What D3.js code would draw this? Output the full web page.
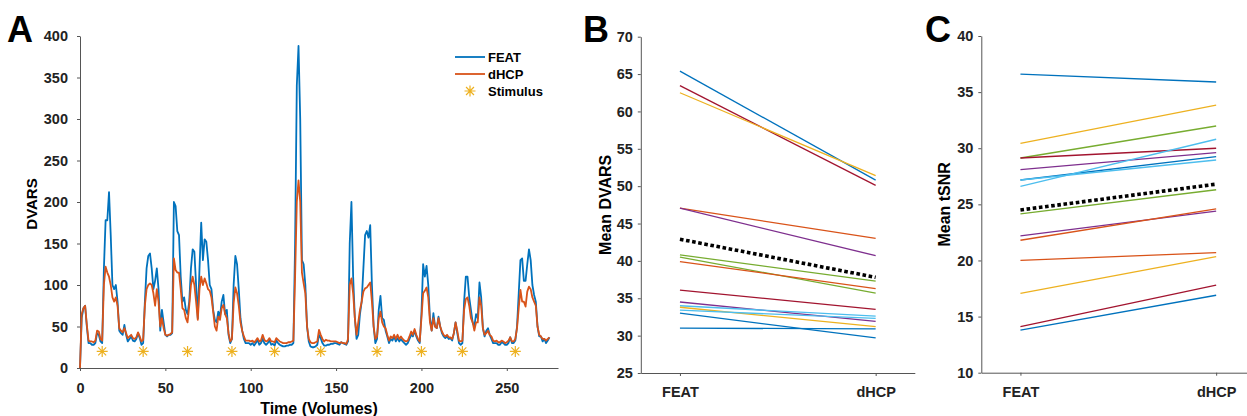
<!DOCTYPE html>
<html>
<head>
<meta charset="utf-8">
<script src="https://cdn.jsdelivr.net/npm/d3@7"></script>
<style>
  body { margin: 0; background: #fff; }
  svg { display: block; font-family: "Liberation Sans", Arial, Helvetica, sans-serif; }
  .axis text { font-size: 14.5px; font-weight: bold; fill: #222; }
  .axis path, .axis line { stroke: #555; }
</style>
</head>
<body>
<svg width="1247" height="416"></svg>
<script>
// ---- panel A : DVARS per volume ----
const dvarsFeat = [
  0, 60, 72, 75, 50, 30, 30, 28, 28, 30,
  42, 40, 32, 30, 120, 178, 178, 212, 160, 100,
  95, 100, 80, 45, 42, 40, 52, 40, 32, 35,
  38, 33, 32, 35, 42, 36, 28, 30, 80, 120,
  135, 138, 120, 95, 105, 120, 95, 45, 70, 55,
  40, 38, 40, 40, 42, 200, 195, 165, 160, 110,
  80, 85, 70, 65, 80, 120, 143, 140, 100, 60,
  120, 175, 130, 155, 152, 130, 100, 95, 70, 58,
  55, 68, 62, 80, 88, 65, 70, 40, 30, 35,
  100, 135, 125, 95, 60, 45, 35, 30, 30, 30,
  28, 30, 27, 30, 34, 28, 30, 35, 30, 28,
  30, 33, 28, 29, 27, 33, 30, 28, 27, 26,
  26, 27, 27, 28, 28, 30, 150, 340, 388, 300,
  130, 125, 100, 50, 32, 26, 25, 25, 26, 28,
  40, 36, 30, 27, 27, 28, 28, 29, 29, 30,
  30, 29, 28, 31, 30, 29, 28, 32, 150, 200,
  110, 60, 35, 40, 65, 80, 120, 160, 165, 157,
  172, 100, 50, 30, 35, 70, 87, 60, 58, 45,
  38, 30, 35, 33, 38, 32, 36, 32, 35, 32,
  30, 28, 30, 35, 40, 38, 45, 38, 33, 30,
  65, 125, 110, 123, 100, 60, 45, 66, 50, 48,
  62, 50, 42, 38, 36, 38, 35, 36, 33, 42,
  55, 42, 30, 28, 30, 80, 110, 110, 85, 70,
  55, 50, 65, 60, 103, 85, 48, 38, 45, 48,
  40, 35, 30, 30, 30, 28, 28, 31, 30, 28,
  28, 30, 37, 30, 30, 33, 50, 90, 130, 132,
  105, 105, 125, 143, 130, 100, 88, 80, 50, 38,
  38, 32, 35, 30, 33, 37
];
const dvarsDhcp = [
  0, 65, 72, 75, 52, 33, 32, 32, 31, 33,
  45, 44, 35, 33, 100, 122, 115, 110, 100, 85,
  80, 85, 75, 48, 45, 43, 48, 42, 36, 38,
  40, 36, 35, 37, 43, 38, 32, 34, 75, 95,
  100, 102, 100, 90, 75, 95, 80, 50, 60, 48,
  40, 39, 40, 41, 43, 132, 118, 115, 115, 95,
  72, 70, 60, 55, 75, 100, 110, 100, 80, 58,
  95, 110, 100, 108, 102, 95, 93, 85, 68, 50,
  45, 62, 58, 72, 76, 65, 60, 42, 32, 35,
  78, 97, 90, 75, 55, 45, 38, 33, 33, 33,
  32, 33, 31, 33, 36, 32, 33, 40, 34, 32,
  33, 36, 32, 32, 31, 36, 34, 32, 31, 30,
  30, 30, 31, 31, 32, 33, 110, 200, 226, 200,
  115, 102, 90, 50, 35, 31, 30, 30, 31, 32,
  46, 40, 35, 32, 34, 33, 33, 32, 32, 32,
  32, 31, 30, 31, 30, 30, 29, 35, 100, 108,
  90, 60, 40, 55, 70, 80, 92, 96, 97, 100,
  103, 80, 50, 35, 38, 60, 68, 55, 50, 48,
  40, 33, 38, 36, 40, 35, 40, 35, 38, 35,
  33, 32, 33, 38, 44, 40, 47, 40, 35, 32,
  60, 90, 93, 97, 85, 55, 45, 60, 50, 48,
  60, 50, 44, 40, 38, 40, 37, 37, 35, 42,
  55, 45, 33, 32, 33, 70, 83, 85, 75, 60,
  55, 45, 55, 55, 85, 75, 48, 40, 42, 45,
  40, 38, 33, 32, 33, 31, 31, 33, 32, 30,
  31, 33, 37, 32, 32, 35, 48, 72, 94, 80,
  80, 74, 92, 98, 95, 85, 80, 75, 50, 40,
  38, 35, 35, 33, 35, 37
];
const stimulusVolumes = [13, 37, 63, 89, 114, 141, 174, 200, 224, 255];
const stimulusLevel = 20;
const timeTicks = [0, 50, 100, 150, 200, 250];
const dvarsTicks = [0, 50, 100, 150, 200, 250, 300, 350, 400];
const legendNames = ["FEAT", "dHCP", "Stimulus"];

// ---- panels B and C : per subject means ----
const methods = ["FEAT", "dHCP"];
const subjColorsB = ["blue", "darkred", "yellow", "orange", "purple", "green", "green", "orange",
                     "darkred", "purple", "lightblue", "yellow", "lightblue", "blue", "blue"];
const meanDvarsFeat = [65.4, 63.45, 62.5, 47.05, 47.05, 40.8, 40.5, 39.9, 36.1, 34.5, 34.0, 33.8, 33.4, 33.0, 31.0];
const meanDvarsDhcp = [50.8, 50.1, 51.4, 43.0, 40.7, 37.3, 35.7, 36.3, 33.5, 31.9, 32.6, 31.2, 32.3, 29.7, 30.9];
const groupDvars = [42.9, 37.8];
const dvarsTicksB = [25, 30, 35, 40, 45, 50, 55, 60, 65, 70];

const subjColorsC = ["blue", "yellow", "green", "darkred", "purple", "blue", "lightblue", "lightblue",
                     "green", "purple", "orange", "orange", "yellow", "darkred", "blue"];
const meanTsnrFeat = [36.6, 30.44, 29.13, 29.13, 28.1, 27.17, 26.6, 27.17, 24.15, 22.2, 21.8, 20.0, 17.07, 14.1, 13.8];
const meanTsnrDhcp = [35.9, 33.85, 31.98, 30.0, 29.6, 29.25, 30.8, 28.95, 26.3, 24.4, 24.6, 20.7, 20.34, 17.8, 16.9];
const groupTsnr = [24.5, 26.8];
const tsnrTicks = [10, 15, 20, 25, 30, 35, 40];

const palette = {
  blue: "#0072BD", orange: "#D95319", yellow: "#EDB120", purple: "#7E2F8E",
  green: "#77AC30", lightblue: "#4DBEEE", darkred: "#A2142F"
};

const svg = d3.select("svg");

// asterisk like matlab '*' marker
function asterisk(cx, cy, r) {
  const d = r * 0.72;
  return `M${cx - r},${cy}h${2 * r}M${cx},${cy - r}v${2 * r}` +
         `M${cx - d},${cy - d}l${2 * d},${2 * d}M${cx - d},${cy + d}l${2 * d},${-2 * d}`;
}

function panelLetter(x, y, t) {
  svg.append("text").attr("x", x).attr("y", y)
    .style("font-size", "36px").style("font-weight", "bold").text(t);
}

//=============== A ===============
const xA = d3.scaleLinear().domain([0, 280]).range([80, 558]);
const yA = d3.scaleLinear().domain([0, 400]).range([368, 36]);

svg.append("g").attr("class", "axis").attr("transform", "translate(0,368)")
  .call(d3.axisBottom(xA).tickValues(timeTicks).tickSize(3).tickSizeOuter(0).tickPadding(12));
svg.append("g").attr("class", "axis").attr("transform", "translate(80,0)")
  .call(d3.axisLeft(yA).tickValues(dvarsTicks).tickSize(3).tickSizeOuter(0).tickPadding(9));

const lineA = d3.line().x((d, i) => xA(i)).y(d => yA(d));
svg.append("path").attr("d", lineA(dvarsFeat))
  .attr("fill", "none").attr("stroke", palette.blue).attr("stroke-width", 1.8).attr("stroke-linejoin", "round");
svg.append("path").attr("d", lineA(dvarsDhcp))
  .attr("fill", "none").attr("stroke", palette.orange).attr("stroke-width", 1.8).attr("stroke-linejoin", "round");

svg.selectAll(".stim").data(stimulusVolumes).enter().append("path")
  .attr("class", "stim")
  .attr("d", d => asterisk(xA(d), yA(stimulusLevel), 5.5))
  .attr("stroke", palette.yellow).attr("stroke-width", 1.2).attr("fill", "none");

svg.append("text").attr("x", 319).attr("y", 414).attr("text-anchor", "middle")
  .style("font-size", "16px").style("font-weight", "bold").text("Time (Volumes)");
svg.append("text").attr("transform", "translate(37,204) rotate(-90)").attr("text-anchor", "middle")
  .style("font-size", "15px").style("font-weight", "bold").text("DVARS");

// legend
const legend = svg.append("g").attr("transform", "translate(455,57)");
[palette.blue, palette.orange].forEach((c, i) => {
  legend.append("line").attr("x1", 0).attr("x2", 30).attr("y1", i * 17).attr("y2", i * 17)
    .attr("stroke", c).attr("stroke-width", 1.8);
});
legend.append("path").attr("d", asterisk(15, 34, 5.5))
  .attr("stroke", palette.yellow).attr("stroke-width", 1.2).attr("fill", "none");
legendNames.forEach((n, i) => {
  legend.append("text").attr("x", 33).attr("y", i * 17 + 4.5)
    .style("font-size", "13px").style("font-weight", "bold").text(n);
});

panelLetter(7, 42, "A");

//=============== B and C ===============
function slopePanel(opt) {
  const x = d3.scaleLinear().domain([0.8, 2.2]).range([opt.left, opt.left + 274]);
  const y = d3.scaleLinear().domain(opt.domain).range([opt.bottom, opt.top]);

  svg.append("g").attr("class", "axis").attr("transform", `translate(0,${opt.bottom})`)
    .call(d3.axisBottom(x).tickValues([1, 2]).tickFormat(d => methods[d - 1])
      .tickSize(3).tickSizeOuter(0).tickPadding(11));
  svg.append("g").attr("class", "axis").attr("transform", `translate(${opt.left},0)`)
    .call(d3.axisLeft(y).tickValues(opt.ticks).tickSize(3).tickSizeOuter(0).tickPadding(5));

  opt.feat.forEach((v, i) => {
    svg.append("line")
      .attr("x1", x(1)).attr("y1", y(v))
      .attr("x2", x(2)).attr("y2", y(opt.dhcp[i]))
      .attr("stroke", palette[opt.colors[i]]).attr("stroke-width", 1.3);
  });

  svg.append("line")
    .attr("x1", x(1)).attr("y1", y(opt.group[0]))
    .attr("x2", x(2)).attr("y2", y(opt.group[1]))
    .attr("stroke", "#000").attr("stroke-width", 3.6).attr("stroke-dasharray", "3.6,2.6");

  svg.append("text").attr("transform", `translate(${opt.labelX},${(opt.top + opt.bottom) / 2}) rotate(-90)`)
    .attr("text-anchor", "middle")
    .style("font-size", "16px").style("font-weight", "bold").text(opt.label);
}

slopePanel({ left: 640.8, top: 36.7, bottom: 373, domain: [25, 70], ticks: dvarsTicksB,
  feat: meanDvarsFeat, dhcp: meanDvarsDhcp, colors: subjColorsB, group: groupDvars,
  label: "Mean DVARS", labelX: 611 });
panelLetter(583, 42, "B");

slopePanel({ left: 981.3, top: 36, bottom: 372.7, domain: [10, 40], ticks: tsnrTicks,
  feat: meanTsnrFeat, dhcp: meanTsnrDhcp, colors: subjColorsC, group: groupTsnr,
  label: "Mean tSNR", labelX: 950 });
panelLetter(925, 42, "C");
</script>
</body>
</html>
